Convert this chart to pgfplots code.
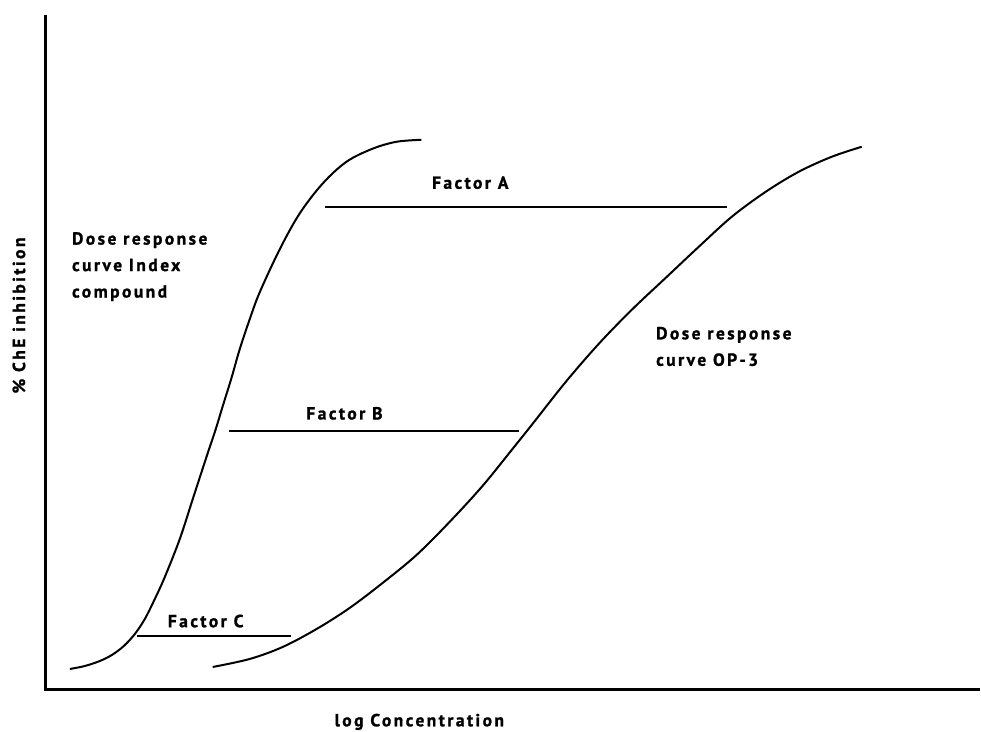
\documentclass[border=0pt]{standalone}
\usepackage{pgfplots}
\pgfplotsset{compat=1.18}
\usepackage{fontspec}
\setmainfont{PT Sans}[LetterSpace=14, BoldFeatures={FakeBold=1.3}]
\tikzset{lbl/.style={font=\fontsize{17.5}{26.5}\selectfont\bfseries, inner sep=0pt}}
\begin{document}
\begin{tikzpicture}
\begin{axis}[
  scale only axis, width=981pt, height=733pt,
  xmin=0, xmax=981, ymin=0, ymax=733, y dir=reverse,
  axis lines=none, clip=false,
]
% invisible frame to fix bounding box
\addplot[draw=none] coordinates {(0,0) (981,733)};
% axes
\addplot[black, line width=3pt] coordinates {(45.5,15) (45.5,691)};
\addplot[black, line width=3pt] coordinates {(44,690.5) (981,690.5)};
% index compound curve
\addplot[black, line width=2pt, smooth, tension=0.55] coordinates {
 (70,670) (85,667) (100,662) (112,656) (124,647) (135,635) (145,620)
 (155,600) (165,578) (180,540)
 (193,500) (207,457) (216,430) (223,407) (232,378) (240,350) (250,320)
 (260,293) (280,250) (300,214) (323,184) (347,162) (373,149) (397,142) (422,140)};
% OP-3 curve
\addplot[black, line width=2pt, smooth, tension=0.55] coordinates {
 (213,668) (250,660) (283,648) (317,630) (350,609) (383,584) (417,556)
 (450,523) (483,487) (513,450) (533,425) (567,382) (600,344) (633,310)
 (667,278) (700,247) (733,217) (767,192) (800,172) (833,157) (863,147)};
% factor lines
\addplot[black, line width=2pt] coordinates {(325,207) (728,207)};
\addplot[black, line width=2pt] coordinates {(229,432) (520,432)};
\addplot[black, line width=2pt] coordinates {(137,637) (291,637)};
% texts
\node[lbl] at (axis cs:471,183) {Factor A};
\node[lbl] at (axis cs:345,414) {Factor B};
\node[lbl] at (axis cs:206,622) {Factor C};
\node[lbl, anchor=west, align=left] at (axis cs:72,267) {Dose response\\curve Index\\compound};
\node[lbl, anchor=west, align=left] at (axis cs:657,347) {Dose response\\curve OP-3};
\node[lbl, rotate=90] at (axis cs:19,316) {\% ChE inhibition};
\node[lbl] at (axis cs:420,723) {log Concentration};
\end{axis}
\end{tikzpicture}
\end{document}
